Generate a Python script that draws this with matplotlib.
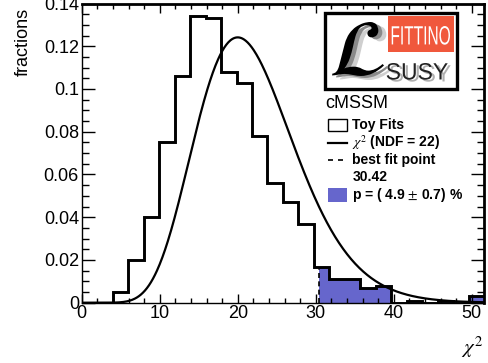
import math
import numpy as np
import matplotlib
matplotlib.use("Agg")
import matplotlib.pyplot as plt
from matplotlib.patches import Rectangle, PathPatch
from matplotlib.textpath import TextPath
from matplotlib.font_manager import FontProperties
from matplotlib.transforms import Affine2D
from matplotlib.ticker import MultipleLocator
from matplotlib.lines import Line2D

plt.rcParams['font.family'] = ['Liberation Sans', 'DejaVu Sans']
plt.rcParams['mathtext.fontset'] = 'stix'

# ---------------- data ----------------
hist_min = 0.0
hist_max = 51.6
n_bins = 26
fractions = [0.0, 0.0, 0.005, 0.020, 0.040, 0.075, 0.106, 0.134, 0.133,
             0.108, 0.103, 0.078, 0.056, 0.047, 0.037, 0.0166, 0.011,
             0.011, 0.007, 0.0078, 0.0, 0.0008, 0.0, 0.0008, 0.0, 0.003]
ndf = 22
best_fit = 30.42
p_text = "p = ( 4.9 $\\pm$ 0.7) %"
x_ticks = [0, 10, 20, 30, 40, 50]
y_ticks = [0, 0.02, 0.04, 0.06, 0.08, 0.1, 0.12, 0.14]
y_tick_labels = ["0", "0.02", "0.04", "0.06", "0.08", "0.1", "0.12", "0.14"]
legend_labels = ["Toy Fits", "$\\chi^2$ (NDF = 22)", "best fit point", "30.42"]
model_label = "cMSSM"

W, H = 489, 363
BLUE = '#6666cc'

fig = plt.figure(figsize=(W / 100, H / 100), dpi=100)
fig.patch.set_facecolor('white')


def fx(px):
    return px / W


def fy(py):
    return 1 - py / H


ax_left, ax_right, ax_top, ax_bottom = 81.7, 484.2, 3.5, 302.7
ax = fig.add_axes([fx(ax_left), fy(ax_bottom), (ax_right - ax_left) / W, (ax_bottom - ax_top) / H])

edges = np.linspace(hist_min, hist_max, n_bins + 1)
vals = np.array(fractions)

# filled tail beyond best fit
mask = edges[1:] > best_fit
tail_edges = np.concatenate([[best_fit], edges[1:][mask]])
tail_vals = vals[mask]
ax.stairs(tail_vals, tail_edges, fill=True, color=BLUE, lw=0, zorder=1)

# histogram outline
ax.stairs(vals, edges, color='black', lw=2.1, zorder=3, baseline=None)

# dashed best-fit line
bf_idx = np.searchsorted(edges, best_fit) - 1
ax.plot([best_fit, best_fit], [0, vals[bf_idx]], color='black', lw=1.2,
        ls=(0, (3, 2)), zorder=4)

# chi2 curve scaled to bin width
bw = edges[1] - edges[0]
xs = np.linspace(0.01, hist_max, 600)
k = ndf
log_pdf = (k / 2 - 1) * np.log(xs) - xs / 2 - (k / 2) * math.log(2) - math.lgamma(k / 2)
ax.plot(xs, bw * np.exp(log_pdf), color='black', lw=1.6, zorder=5)

ax.set_xlim(hist_min, hist_max)
ax.set_ylim(0, 0.14)
ax.set_xticks(x_ticks)
ax.set_yticks(y_ticks)
ax.set_yticklabels(y_tick_labels)
ax.xaxis.set_minor_locator(MultipleLocator(2))
ax.yaxis.set_minor_locator(MultipleLocator(0.005))
ax.tick_params(axis='both', which='both', direction='in', top=True, right=True,
               labelsize=13, colors='black')
ax.tick_params(axis='x', which='major', length=6.5, width=1, pad=2)
ax.tick_params(axis='x', which='minor', length=3.3, width=1)
ax.tick_params(axis='y', which='major', length=9.5, width=1, pad=2)
ax.tick_params(axis='y', which='minor', length=5, width=1)
for s in ['left', 'bottom']:
    ax.spines[s].set_linewidth(1.0)
for s in ['top', 'right']:
    ax.spines[s].set_linewidth(2.0)

# axis labels
fig.text(fx(23), fy(8), "fractions", rotation=90, ha='center', va='top', fontsize=13)
fig.text(fx(483), fy(347), "$\\chi^2$", ha='right', va='center', fontsize=15)


# ---------------- logo ----------------
logo_ax = fig.add_axes([0, 0, 1, 1], facecolor='none')
logo_ax.set_xlim(0, W)
logo_ax.set_ylim(0, H)
logo_ax.axis('off')


def add_text_box(s, x0, y0, x1, y1, prop, color, z):
    """Text outline stretched into a pixel box given with a top-left origin."""
    tp = TextPath((0, 0), s, size=50, prop=prop)
    ext = tp.get_extents()
    sx = (x1 - x0) / ext.width
    sy = (y1 - y0) / ext.height
    tr = (Affine2D().translate(-ext.x0, -ext.y0).scale(sx, sy)
          .translate(x0, H - y1))
    logo_ax.add_patch(PathPatch(tr.transform_path(tp), facecolor=color,
                                edgecolor='none', lw=0, zorder=z))


# logo frame
logo_ax.add_patch(Rectangle((325, H - 89), 457 - 325, 89 - 13, facecolor='white',
                            edgecolor='black', lw=2.4, zorder=8))
# red box
logo_ax.add_patch(Rectangle((388.3, H - 52), 454.3 - 388.3, 52 - 16.3,
                            facecolor='#f0583c', edgecolor='none', zorder=9))

fp_reg = FontProperties(family='Liberation Sans')
add_text_box("FITTINO", 391.7, 26, 450, 44.7, fp_reg, 'white', 10)
add_text_box("SUSY", 389.7, 65, 450.7, 81.7, fp_reg, '#b0b0b0', 10)
add_text_box("SUSY", 386.7, 63, 447.7, 79.7, fp_reg, '#222222', 11)
fp_L = FontProperties(family='STIXGeneral', style='italic')
add_text_box("$\\mathcal{L}$", 340, 26, 392, 80, fp_L, '#cfcfcf', 10)
add_text_box("$\\mathcal{L}$", 336, 24, 388, 78, fp_L, '#8a8a8a', 11)
add_text_box("$\\mathcal{L}$", 332, 22, 384, 76, fp_L, 'black', 12)

# ---------------- legend ----------------
fig.text(fx(325), fy(103.3), model_label, ha='left', va='center', fontsize=13)
lx0, lx1, tx = 328.3, 346.7, 352.3
fig.add_artist(Rectangle((fx(lx0), fy(130.7)), (lx1 - lx0) / W, (130.7 - 119.3) / H,
                         transform=fig.transFigure, facecolor='white',
                         edgecolor='black', lw=1.0))
fig.add_artist(Line2D([fx(lx0), fx(lx1)], [fy(142.7), fy(142.7)], color='black', lw=1.6,
                      transform=fig.transFigure))
fig.add_artist(Line2D([fx(lx0), fx(lx1)], [fy(160), fy(160)], color='black', lw=1.2,
                      ls=(0, (3, 3)), transform=fig.transFigure))
fig.add_artist(Rectangle((fx(lx0), fy(201.7)), (lx1 - lx0) / W, (201.7 - 188.3) / H,
                         transform=fig.transFigure, facecolor=BLUE, edgecolor='none'))
for lab, yy in zip(legend_labels + [p_text], [125, 143, 160, 177.3, 195]):
    fig.text(fx(tx), fy(yy), lab, ha='left', va='center', fontsize=10, fontweight='bold')

fig.savefig("out.png", dpi=100)
